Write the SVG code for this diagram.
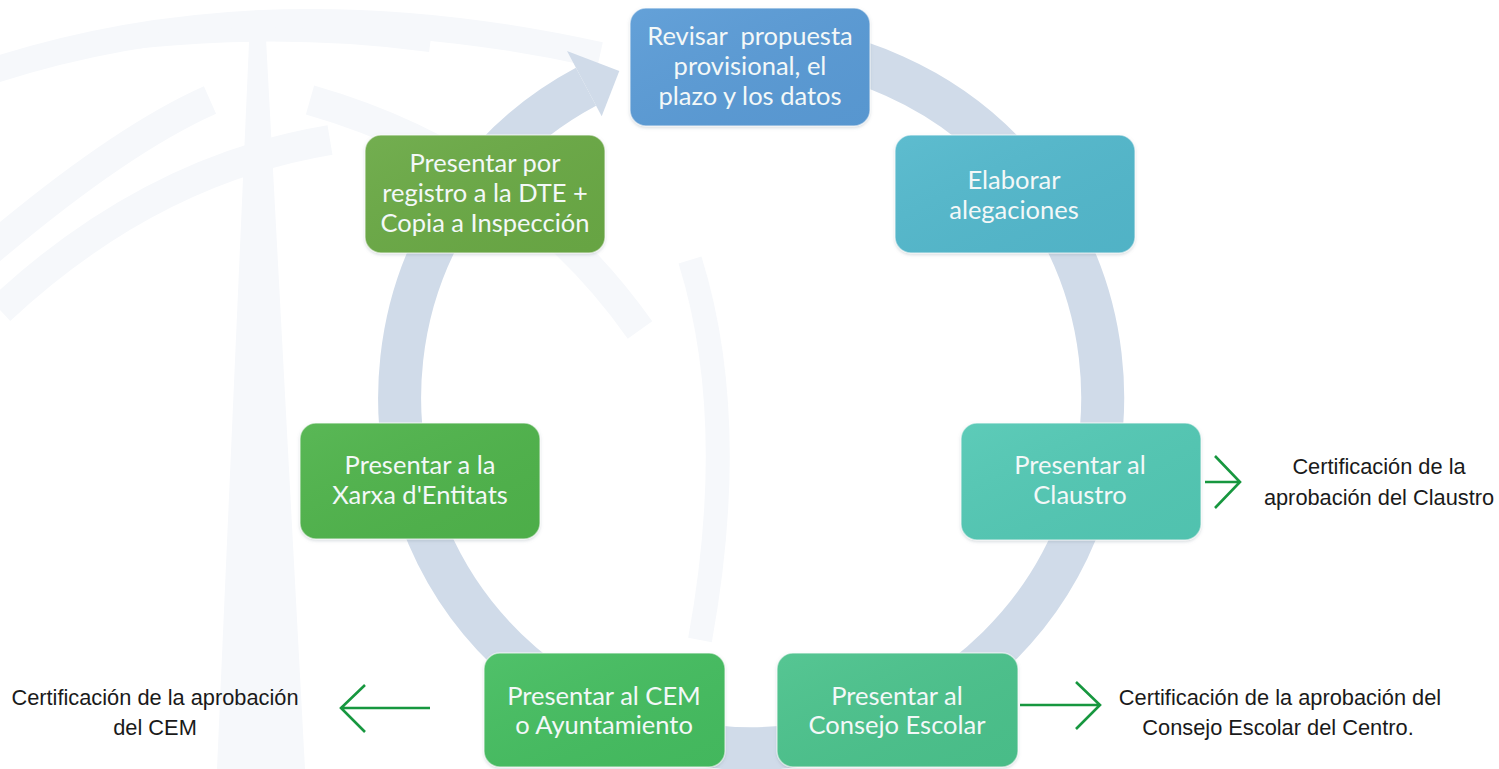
<svg xmlns="http://www.w3.org/2000/svg" width="1499" height="769" viewBox="0 0 1499 769">
<style>
.wm{fill:none;stroke:#f6f8fb;}
.ring{fill:none;stroke:#d0dbe9;stroke-width:43;}
.box{stroke:#ffffff;stroke-opacity:0.55;stroke-width:1.5;}
.bt{font-family:Lato,"Open Sans",sans-serif;font-size:25.5px;fill:#f3f8f8;text-anchor:middle;}
.ct{font-family:"Liberation Sans",Arial,sans-serif;font-size:21.8px;fill:#1a1a1a;text-anchor:middle;}
.ga{fill:none;stroke:#17973f;stroke-width:2.6;stroke-linecap:butt;}
</style>
<defs>
<linearGradient id="sheen" x1="0" y1="0" x2="1" y2="1">
<stop offset="0" stop-color="#ffffff" stop-opacity="0.06"/>
<stop offset="1" stop-color="#000000" stop-opacity="0.03"/>
</linearGradient>
<filter id="sh" x="-10%" y="-10%" width="120%" height="130%">
<feDropShadow dx="0" dy="1.5" stdDeviation="1.5" flood-color="#7a8a99" flood-opacity="0.3"/>
</filter>
</defs>
<rect width="1499" height="769" fill="#ffffff"/>
<g id="watermark">
<path class="wm" stroke-width="26" d="M -20 75 Q 260 -20 600 55"/>
<path class="wm" stroke-width="14" d="M 40 55 Q 240 20 430 45"/>
<path class="wm" stroke-width="30" d="M -10 250 Q 120 140 210 100"/>
<path class="wm" stroke-width="30" d="M 310 100 Q 520 160 640 330"/>
<path d="M 250 20 L 265 20 L 305 769 L 217 769 Z" fill="#f6f8fb"/>
<path class="wm" stroke-width="30" d="M 0 310 Q 150 170 330 140"/>
<path class="wm" stroke-width="24" d="M 690 260 Q 740 420 700 640"/>
</g>
<g id="connectors">
<path class="ring" d="M 738.7 45.7 A 351.5 351.5 0 1 1 586.0 86.7"/>
<polygon points="567,51 619.3,71.1 601.7,116.2" fill="#d0dbe9"/>
<path class="ga" d="M 1205 482 L 1239 482 M 1215 456 L 1240 482 L 1215 508"/>
<path class="ga" d="M 1020 705 L 1099 705 M 1076 682 L 1100 705 L 1076 729"/>
<path class="ga" d="M 430 708 L 341 708 M 365 685 L 341 708 L 365 732"/>
</g>
<g id="n1">
<rect class="box" x="630" y="8" width="240" height="118" rx="16" fill="#5a9bd6" filter="url(#sh)"/>
<rect x="630" y="8" width="240" height="118" rx="16" fill="url(#sheen)"/>
<text class="bt" x="750" y="45" xml:space="preserve">Revisar  propuesta</text>
<text class="bt" x="750" y="75">provisional, el</text>
<text class="bt" x="750" y="105">plazo y los datos</text>
</g>
<g id="n2">
<rect class="box" x="895" y="135" width="240" height="118" rx="16" fill="#52b8cc" filter="url(#sh)"/>
<rect x="895" y="135" width="240" height="118" rx="16" fill="url(#sheen)"/>
<text class="bt" x="1014" y="189">Elaborar</text>
<text class="bt" x="1014" y="219">alegaciones</text>
</g>
<g id="n3">
<rect class="box" x="961" y="423" width="240" height="117" rx="16" fill="#52c8b4" filter="url(#sh)"/>
<rect x="961" y="423" width="240" height="117" rx="16" fill="url(#sheen)"/>
<text class="bt" x="1080" y="474">Presentar al</text>
<text class="bt" x="1080" y="504">Claustro</text>
</g>
<g id="n4">
<rect class="box" x="777" y="653" width="241" height="114" rx="16" fill="#4cc28c" filter="url(#sh)"/>
<rect x="777" y="653" width="241" height="114" rx="16" fill="url(#sheen)"/>
<text class="bt" x="897" y="705">Presentar al</text>
<text class="bt" x="897" y="734">Consejo Escolar</text>
</g>
<g id="n5">
<rect class="box" x="484" y="653" width="241" height="114" rx="16" fill="#45bd60" filter="url(#sh)"/>
<rect x="484" y="653" width="241" height="114" rx="16" fill="url(#sheen)"/>
<text class="bt" x="604" y="705">Presentar al CEM</text>
<text class="bt" x="604" y="734">o Ayuntamiento</text>
</g>
<g id="n6">
<rect class="box" x="300" y="423" width="240" height="116" rx="16" fill="#4fb34b" filter="url(#sh)"/>
<rect x="300" y="423" width="240" height="116" rx="16" fill="url(#sheen)"/>
<text class="bt" x="420" y="474">Presentar a la</text>
<text class="bt" x="420" y="504">Xarxa d'Entitats</text>
</g>
<g id="n7">
<rect class="box" x="365" y="135" width="240" height="118" rx="16" fill="#6aa945" filter="url(#sh)"/>
<rect x="365" y="135" width="240" height="118" rx="16" fill="url(#sheen)"/>
<text class="bt" x="485" y="172">Presentar por</text>
<text class="bt" x="485" y="202">registro a la DTE +</text>
<text class="bt" x="485" y="232">Copia a Inspección</text>
</g>
<g id="labels">
<text class="ct" x="1379" y="474">Certificación de la</text>
<text class="ct" x="1379" y="505">aprobación del Claustro</text>
<text class="ct" x="1280" y="705">Certificación de la aprobación del</text>
<text class="ct" x="1278" y="735">Consejo Escolar del Centro.</text>
<text class="ct" x="155" y="705">Certificación de la aprobación</text>
<text class="ct" x="155" y="735">del CEM</text>
</g>
</svg>
